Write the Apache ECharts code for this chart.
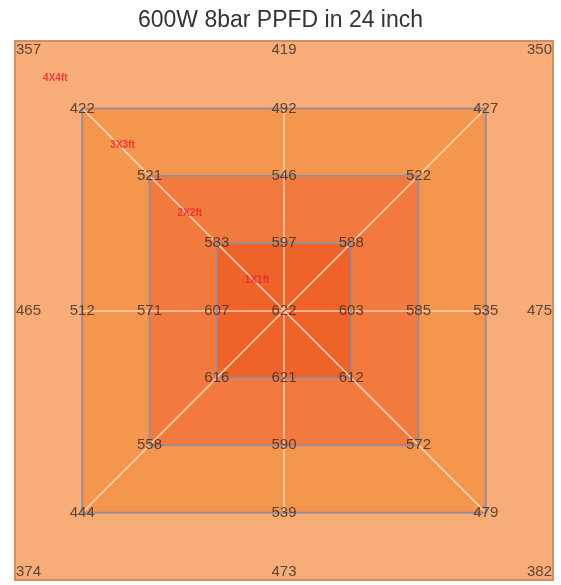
<!DOCTYPE html>
<html>
<head>
<meta charset="utf-8">
<script src="https://cdn.jsdelivr.net/npm/echarts@6/dist/echarts.min.js"></script>
<style>
  html, body { margin: 0; padding: 0; background: #fff; }
  #chart { width: 561px; height: 585px; }
</style>
</head>
<body>
<div id="chart"></div>
<script>
// 方框半宽(格)，从外到内
const rings = [4, 3, 2, 1];
const ringNames = ['4X4ft', '3X3ft', '2X2ft', '1X1ft'];
const ringColors = ['#f8ac77', '#f5964f', '#f27a3f', '#ef632a'];
// 每圈8个点的顺序：左上 上 右上 左 右 左下 下 右下
const compass = [[-1, -1], [0, -1], [1, -1], [-1, 0], [1, 0], [-1, 1], [0, 1], [1, 1]];
const ring4Vals = [357, 419, 350, 465, 475, 374, 473, 382];
const ring3Vals = [422, 492, 427, 512, 535, 444, 539, 479];
const ring2Vals = [521, 546, 522, 571, 585, 558, 590, 572];
const ring1Vals = [583, 597, 588, 607, 603, 616, 621, 612];
const centerVal = 622;

const ringVals = [ring4Vals, ring3Vals, ring2Vals, ring1Vals];

// 数值点
let pointData = [];
ringVals.forEach((vals, i) => {
    let r = rings[i];
    vals.forEach((v, k) => {
        let d = compass[k];
        let item = { value: [d[0] * r, d[1] * r, v] };
        if (i == 0) {
            // 最外圈标注放在框内
            item.label = {
                align: d[0] < 0 ? 'left' : (d[0] > 0 ? 'right' : 'center'),
                verticalAlign: d[1] < 0 ? 'top' : (d[1] > 0 ? 'bottom' : 'middle'),
                offset: [d[0] < 0 ? 1 : (d[0] > 0 ? -1 : 0), d[1] < 0 ? 1 : (d[1] > 0 ? -1 : 0)]
            };
        }
        pointData.push(item);
    });
});
pointData.push({ value: [0, 0, centerVal] });

// 尺寸标注（红字）
const nameData = rings.map((r, i) => ({ value: [-(r - 0.6), -(r - 0.55), ringNames[i]] }));

// 白色十字与对角线（沿3X3框）
const r3 = rings[1];
const guideLines = [
    { coords: [[-r3, -r3], [r3, r3]] },
    { coords: [[-r3, r3], [r3, -r3]] },
    { coords: [[0, -r3], [0, r3]] },
    { coords: [[-r3, 0], [r3, 0]] }
];

let chart = echarts.init(document.getElementById('chart'));
let option = {
    animation: false,
    title: {
        text: '600W 8bar PPFD in 24 inch',
        left: 'center',
        top: 4,
        textStyle: { fontFamily: 'Liberation Sans', fontSize: 23, fontWeight: 'normal', color: '#333' }
    },
    grid: { left: 15, right: 8, top: 41, bottom: 5 },
    xAxis: { type: 'value', min: -4, max: 4, show: false },
    yAxis: { type: 'value', min: -4, max: 4, inverse: true, show: false },
    series: [
        {
            type: 'custom',
            data: rings.map((r, i) => [r, i]),
            z: 1,
            renderItem: function (params, api) {
                let r = api.value(0);
                let i = api.value(1);
                let p1 = api.coord([-r, -r]);
                let p2 = api.coord([r, r]);
                return {
                    type: 'rect',
                    shape: { x: p1[0], y: p1[1], width: p2[0] - p1[0], height: p2[1] - p1[1] },
                    style: { fill: ringColors[i], stroke: null }
                };
            }
        },
        {
            type: 'lines',
            coordinateSystem: 'cartesian2d',
            z: 2,
            lineStyle: { color: 'rgba(255,222,190,0.85)', width: 1.5, opacity: 1 },
            data: guideLines
        },
        {
            type: 'custom',
            data: rings.map((r, i) => [r, i]),
            z: 3,
            renderItem: function (params, api) {
                let r = api.value(0);
                let i = api.value(1);
                let p1 = api.coord([-r, -r]);
                let p2 = api.coord([r, r]);
                return {
                    type: 'rect',
                    shape: { x: p1[0], y: p1[1], width: p2[0] - p1[0], height: p2[1] - p1[1] },
                    style: { fill: null, stroke: i == 0 ? '#cf8d68' : '#9d8c92', lineWidth: 2 }
                };
            }
        },
        {
            type: 'scatter',
            symbolSize: 0,
            z: 5,
            data: pointData,
            label: {
                show: true,
                position: 'inside',
                formatter: p => p.value[2],
                fontFamily: 'Liberation Sans',
                fontSize: 15,
                color: '#3a2b24'
            }
        },
        {
            type: 'scatter',
            symbolSize: 0,
            z: 5,
            data: nameData,
            label: {
                show: true,
                position: 'inside',
                formatter: p => p.value[2],
                fontFamily: 'Liberation Sans',
                fontSize: 10,
                fontWeight: 'bold',
                color: '#e8262a'
            }
        }
    ]
};
chart.setOption(option);
</script>
</body>
</html>
